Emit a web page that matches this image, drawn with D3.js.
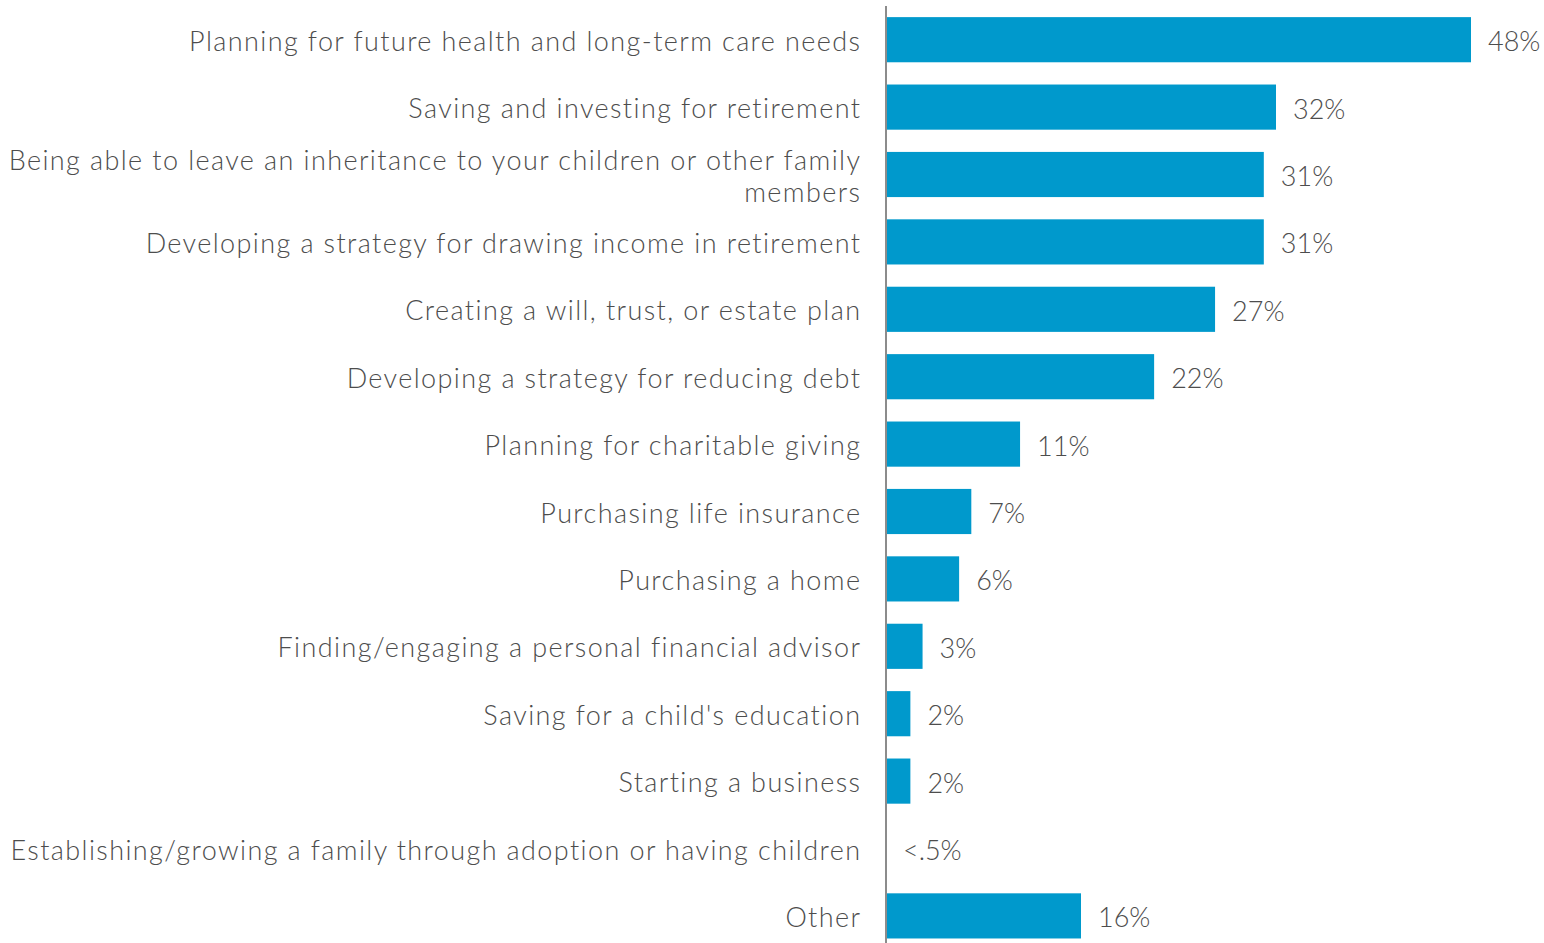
<!DOCTYPE html>
<html>
<head>
<meta charset="utf-8">
<script src="https://cdn.jsdelivr.net/npm/d3@7"></script>
<style>
  html, body { margin: 0; padding: 0; background: #fff; }
  svg { display: block; }
  text { font-family: "Lato", "Noto Sans", sans-serif; font-weight: 300; fill: #4d4d4d; }
</style>
</head>
<body>
<svg id="chart" width="1544" height="943"></svg>
<script>
// Priorities, in display order (top to bottom)
const categories = [
  "Planning for future health and long-term care needs",
  "Saving and investing for retirement",
  "Being able to leave an inheritance to your children or other family members",
  "Developing a strategy for drawing income in retirement",
  "Creating a will, trust, or estate plan",
  "Developing a strategy for reducing debt",
  "Planning for charitable giving",
  "Purchasing life insurance",
  "Purchasing a home",
  "Finding/engaging a personal financial advisor",
  "Saving for a child's education",
  "Starting a business",
  "Establishing/growing a family through adoption or having children",
  "Other"
];
const values = [48, 32, 31, 31, 27, 22, 11, 7, 6, 3, 2, 2, 0, 16];
const valueLabels = ["48%", "32%", "31%", "31%", "27%", "22%", "11%", "7%", "6%", "3%", "2%", "2%", "<.5%", "16%"];
// Category labels that break over two lines
const labelLines = {
  "Being able to leave an inheritance to your children or other family members":
    ["Being able to leave an inheritance to your children or other family", "members"]
};

const svg = d3.select("#chart");
const axisX = 886;
const fontSize = 27;
const spacing = 1.4;

const x = d3.scaleLinear().domain([0, 48]).range([axisX, 1471]);
const y = d3.scaleBand().domain(categories).range([6, 949.6])
  .paddingInner(0.33).paddingOuter(0.165);

// Bars
svg.append("g").selectAll("rect")
  .data(categories)
  .join("rect")
  .attr("x", x(0))
  .attr("y", d => y(d))
  .attr("width", (d, i) => x(values[i]) - x(0))
  .attr("height", y.bandwidth())
  .attr("fill", "#0099cc");

// Category axis (line only, no ticks)
const yAxis = d3.axisLeft(y).tickSize(0).tickFormat("");
const gAxis = svg.append("g").attr("transform", `translate(${axisX},0)`).call(yAxis);
gAxis.select(".domain").attr("stroke", "#8c8c8c").attr("stroke-width", 2)
  .attr("d", `M0,6V943`);

// Category labels (trailing letter-spacing compensated on the anchor)
const labelX = axisX - 26 + spacing;
const labels = svg.append("g").selectAll("text")
  .data(categories)
  .join("text")
  .attr("x", labelX)
  .attr("y", d => y(d) + y.bandwidth() / 2)
  .attr("text-anchor", "end")
  .attr("font-size", fontSize)
  .attr("letter-spacing", spacing)
  .attr("dominant-baseline", "central");

labels.each(function(d) {
  const lines = labelLines[d] || [d];
  const t = d3.select(this);
  const lh = 32;
  const off = -(lines.length - 1) * lh / 2;
  lines.forEach((ln, k) => {
    t.append("tspan")
      .attr("x", labelX)
      .attr("dy", k === 0 ? off : lh)
      .text(ln);
  });
});

// Value labels
svg.append("g").selectAll("text")
  .data(categories)
  .join("text")
  .attr("x", (d, i) => x(values[i]) + 17)
  .attr("y", d => y(d) + y.bandwidth() / 2 + 1)
  .attr("font-size", fontSize)
  .attr("dominant-baseline", "central")
  .text((d, i) => valueLabels[i]);
</script>
</body>
</html>
